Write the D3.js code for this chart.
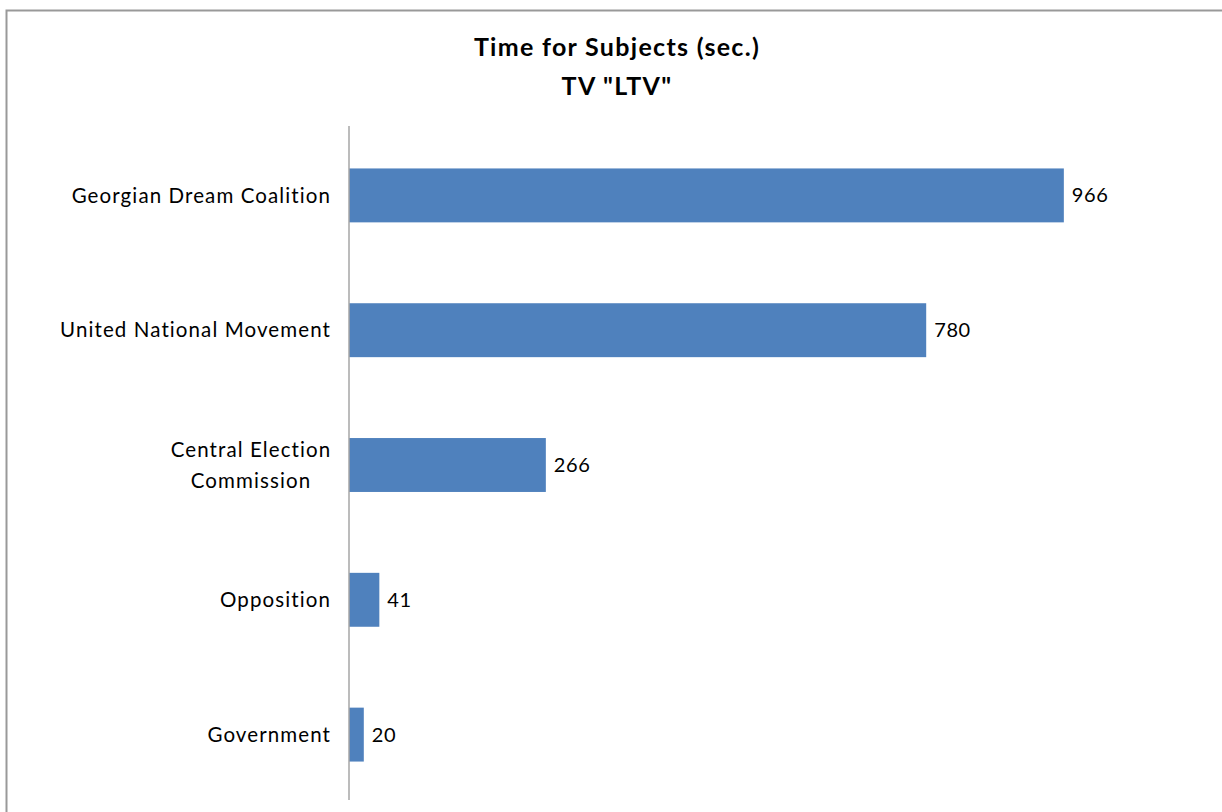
<!DOCTYPE html>
<html><head><meta charset="utf-8">
<script src="https://cdn.jsdelivr.net/npm/d3@7"></script>
<style>
html,body{margin:0;padding:0;background:#fff;}
svg{display:block;font-family:Lato,"Open Sans",sans-serif;font-variant-ligatures:none;}
</style></head>
<body>
<svg id="c" width="1222" height="812"></svg>
<script>
const categories = ["Georgian Dream Coalition","United National Movement","Central Election Commission","Opposition","Government"];
const values = [966, 780, 266, 41, 20];
const titleLines = ["Time for Subjects (sec.)", "TV \"LTV\""];
const labelLines = {"Central Election Commission":["Central Election","Commission"]};

(function(){
const svg = d3.select("#c");
svg.append("rect").attr("x",6.5).attr("y",10.5).attr("width",1240).attr("height",840)
  .attr("fill","none").attr("stroke","#999").attr("stroke-width",2);

const x0 = 349, plotTop = 126, plotBottom = 800;
const x = d3.scaleLinear().domain([0,1000]).range([x0, x0+740]);
const y = d3.scaleBand().domain(categories).range([plotTop+2,plotBottom+2]).paddingInner(0.6).paddingOuter(0.3);

svg.selectAll("text.title").data(titleLines).join("text").attr("class","title")
  .attr("x",617).attr("y",(d,i)=>56+i*39).attr("text-anchor","middle")
  .attr("font-size",25).attr("letter-spacing",1.3).attr("font-weight","bold").attr("fill","#000").text(d=>d);

svg.selectAll("rect.bar").data(categories).join("rect").attr("class","bar")
  .attr("x",x(0)).attr("y",d=>y(d)).attr("width",(d,i)=>x(values[i])-x(0))
  .attr("height",y.bandwidth()).attr("fill","#4f81bd");

svg.append("line").attr("x1",x0).attr("x2",x0).attr("y1",plotTop).attr("y2",plotBottom)
  .attr("stroke","#a6a6a6").attr("stroke-width",1.5);

svg.selectAll("text.val").data(categories).join("text").attr("class","val")
  .attr("x",(d,i)=>x(values[i])+8).attr("y",d=>y(d)+y.bandwidth()/2).attr("dy","0.35em")
  .attr("font-size",20).attr("letter-spacing",0.6).attr("fill","#000").text((d,i)=>values[i]);

const lab = svg.selectAll("g.lab").data(categories).join("g").attr("class","lab");
lab.each(function(d){
  const lines = labelLines[d] || [d];
  const cy = y(d)+y.bandwidth()/2;
  const g = d3.select(this);
  lines.forEach((t,i)=>{
    g.append("text").attr("x", lines.length>1 ? 251 : 331)
      .attr("text-anchor", lines.length>1 ? "middle":"end")
      .attr("y", cy + (i-(lines.length-1)/2)*31).attr("dy","0.35em")
      .attr("font-size",20.5).attr("letter-spacing",1.1).attr("fill","#000").text(t);
  });
});
})();
</script>
</body></html>
